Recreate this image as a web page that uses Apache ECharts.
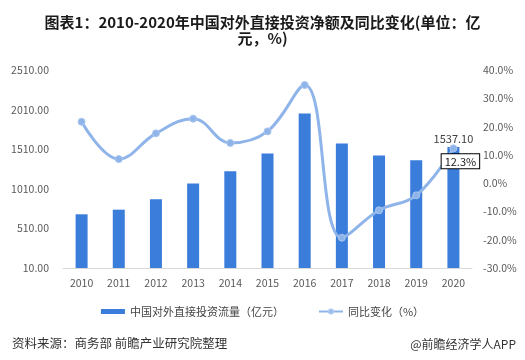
<!DOCTYPE html>
<html>
<head>
<meta charset="utf-8">
<script src="https://cdn.jsdelivr.net/npm/echarts@6/dist/echarts.min.js"></script>
<style>html,body{margin:0;padding:0;background:#fff}#c{width:525px;height:360px}</style>
</head>
<body>
<div id="c"></div>
<script>
var years = ['2010','2011','2012','2013','2014','2015','2016','2017','2018','2019','2020'];
var flowValues = [688.1, 746.5, 878.0, 1078.4, 1231.2, 1456.7, 1961.5, 1582.9, 1430.4, 1369.1, 1537.1];
var yoyValues = [21.7, 8.5, 17.6, 22.8, 14.2, 18.3, 34.7, -19.3, -9.6, -4.3, 12.3];
var leftTicks = {min: 10, max: 2510, interval: 500};
var rightTicks = {min: -30, max: 40, interval: 10};

var chart = echarts.init(document.getElementById('c'));
var font = '"Noto Sans CJK SC", "Microsoft YaHei", sans-serif';
var barColor = '#3b7ddb';
var lineColor = '#8fb4e9';
var n = years.length;

chart.setOption({
  animation: false,
  textStyle: {fontFamily: font},
  title: [{
    text: '图表1：2010-2020年中国对外直接投资净额及同比变化(单位：亿',
    left: 'center', top: 10,
    textStyle: {fontSize: 15, fontWeight: 'bold', color: '#1a1a1a', fontFamily: font}
  }, {
    text: '元，%)',
    left: 'center', top: 26,
    textStyle: {fontSize: 15, fontWeight: 'bold', color: '#1a1a1a', fontFamily: font}
  }, {
    text: '资料来源：商务部 前瞻产业研究院整理',
    left: 7, top: 332,
    textStyle: {fontSize: 12.5, fontWeight: 'normal', color: '#333', fontFamily: font}
  }, {
    text: '@前瞻经济学人APP',
    right: 4, top: 333,
    textStyle: {fontSize: 12, fontWeight: 'normal', color: '#333', fontFamily: font}
  }],
  legend: {
    top: 301, left: 'center',
    itemGap: 34, itemWidth: 24, itemHeight: 5,
    textStyle: {fontSize: 11, color: '#444', fontFamily: font},
    data: [
      {name: '中国对外直接投资流量（亿元）', icon: 'rect'},
      {name: '同比变化（%）'}
    ]
  },
  grid: {left: 63, right: 53, top: 70, bottom: 92},
  xAxis: {
    type: 'category', data: years,
    axisLine: {onZero: false, lineStyle: {color: '#d9d9d9'}},
    axisTick: {show: false},
    axisLabel: {color: '#595959', fontSize: 10.5, margin: 10}
  },
  yAxis: [{
    type: 'value', min: leftTicks.min, max: leftTicks.max, interval: leftTicks.interval,
    splitLine: {show: false}, axisLine: {show: false}, axisTick: {show: false},
    axisLabel: {color: '#595959', fontSize: 10.5, margin: 14, formatter: function(v){return v.toFixed(2);}}
  }, {
    type: 'value', min: rightTicks.min, max: rightTicks.max, interval: rightTicks.interval,
    splitLine: {show: false}, axisLine: {show: false}, axisTick: {show: false},
    axisLabel: {color: '#595959', fontSize: 10.5, margin: 11, formatter: function(v){return v.toFixed(1) + '%';}}
  }],
  series: [{
    name: '中国对外直接投资流量（亿元）',
    type: 'bar', barWidth: 12, yAxisIndex: 0,
    itemStyle: {color: barColor},
    data: flowValues.map(function(v, i){
      return i === n - 1 ? {value: v, label: {show: true, position: 'top', distance: 3, color: '#404040', fontSize: 11, formatter: function(p){return p.value.toFixed(2);}}} : v;
    }),
    z: 2
  }, {
    name: '同比变化（%）',
    type: 'line', yAxisIndex: 1, smooth: 0.4,
    symbol: 'circle', symbolSize: 7,
    lineStyle: {color: lineColor, width: 3},
    itemStyle: {color: lineColor, borderColor: '#a9c6ee', borderWidth: 1},
    data: yoyValues.map(function(v, i){
      return i === n - 1 ? {value: v, label: {show: true, position: 'bottom', distance: 2, offset: [7, 0], color: '#222', fontSize: 11, backgroundColor: '#fff', borderColor: '#000', borderWidth: 1, padding: [2, 3, 1, 3], formatter: function(p){return p.value.toFixed(1) + '%';}}} : v;
    }),
    z: 3
  }]
});
</script>
</body>
</html>
